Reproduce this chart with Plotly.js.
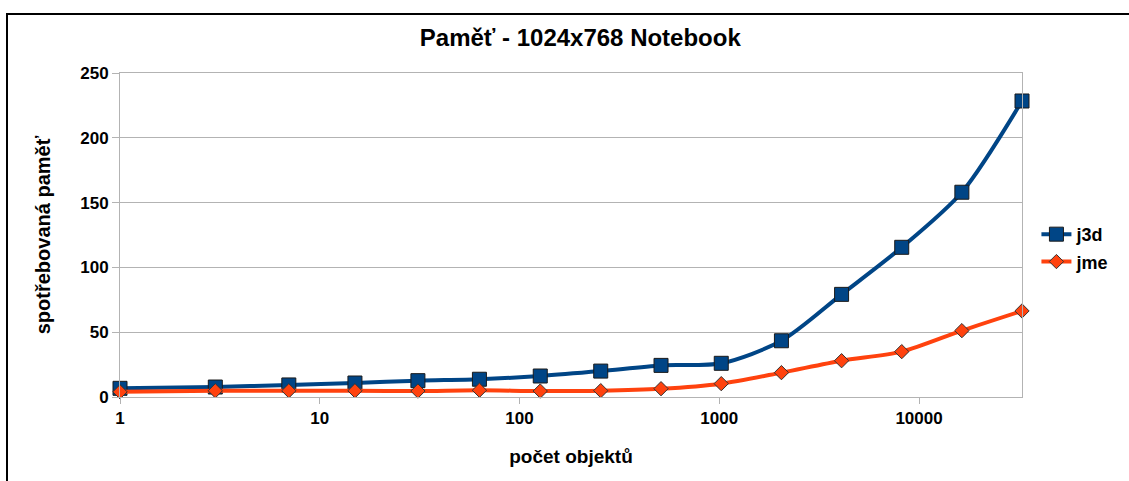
<!DOCTYPE html>
<html>
<head>
<meta charset="utf-8">
<script src="https://cdn.plot.ly/plotly-3.0.1.min.js"></script>
<style>
  html, body { margin: 0; padding: 0; background: #ffffff; }
  #wrap { position: relative; width: 1129px; height: 481px; overflow: hidden; background: #ffffff; }
  #frame { position: absolute; left: 6px; top: 13px; width: 1200px; height: 600px; border: 2px solid #000000; box-sizing: border-box; }
  #chart { position: absolute; left: 0; top: 0; width: 1129px; height: 481px; }
</style>
</head>
<body>
<div id="wrap">
  <div id="frame"></div>
  <div id="chart"></div>
</div>
<script>
// Data
const objectCounts = [1, 3, 7, 15, 31, 63, 127, 255, 511, 1023, 2047, 4095, 8191, 16383, 32767];
const j3dMemory = [6.7, 7.7, 9.3, 10.8, 12.6, 13.7, 16.2, 20, 24.4, 26, 43.4, 79.2, 115.5, 158, 228.4];
const jmeMemory = [4, 4.8, 4.8, 4.8, 4.6, 5.2, 4.6, 4.9, 6.4, 10.3, 18.8, 28, 35, 51.2, 66.4];
const seriesNames = ['j3d', 'jme'];
const xTickVals = [1, 10, 100, 1000, 10000];
const xTickText = ['1', '10', '100', '1000', '10000'];
const yTickVals = [0, 50, 100, 150, 200, 250];

const fontFamily = '"Liberation Sans", Arial, sans-serif';

const traces = [
  {
    x: objectCounts, y: j3dMemory, name: seriesNames[0],
    type: 'scatter', mode: 'lines+markers',
    line: { color: '#004586', width: 4, shape: 'spline', smoothing: 0.8 },
    marker: { symbol: 'square', size: 14, color: '#004586', line: { color: '#1a1a1a', width: 1 } },
    cliponaxis: false, legendgroup: 'a'
  },
  {
    x: objectCounts, y: jmeMemory, name: seriesNames[1],
    type: 'scatter', mode: 'lines+markers',
    line: { color: '#ff420e', width: 4, shape: 'spline', smoothing: 0.8 },
    marker: { symbol: 'diamond', size: 11, color: '#ff420e', line: { color: '#333333', width: 1 } },
    cliponaxis: false, legendgroup: 'b'
  }
];

const layout = {
  width: 1129, height: 481,
  paper_bgcolor: 'rgba(0,0,0,0)',
  plot_bgcolor: '#ffffff',
  margin: { l: 120, r: 107, t: 73, b: 84, pad: 0 },
  font: { family: fontFamily, color: '#000000' },
  title: {
    text: '<b>Paměť - 1024x768 Notebook</b>',
    font: { family: fontFamily, size: 24, color: '#000000' },
    x: 0.514, xanchor: 'center', xref: 'container',
    y: 0.921, yanchor: 'middle', yref: 'container'
  },
  xaxis: {
    type: 'log',
    range: [0, Math.log10(32767)],
    tickmode: 'array', tickvals: xTickVals, ticktext: xTickText,
    ticks: 'outside', ticklen: 6, tickcolor: '#b3b3b3', tickwidth: 1,
    tickfont: { family: fontFamily, size: 17, color: '#000000', weight: 'bold' },
    showgrid: false, zeroline: false,
    showline: true, linecolor: '#b3b3b3', linewidth: 1, mirror: true,
    title: { text: '<b>počet objektů</b>', font: { family: fontFamily, size: 19, color: '#000000' }, standoff: 22 }
  },
  yaxis: {
    range: [0, 250],
    tickmode: 'array', tickvals: yTickVals,
    ticks: 'outside', ticklen: 7, tickcolor: '#b3b3b3', tickwidth: 1,
    tickfont: { family: fontFamily, size: 17, color: '#000000', weight: 'bold' },
    showgrid: true, gridcolor: '#b3b3b3', gridwidth: 1, zeroline: false,
    showline: true, linecolor: '#b3b3b3', linewidth: 1, mirror: true,
    title: { text: '<b>spotřebovaná paměť</b>', font: { family: fontFamily, size: 20, color: '#000000' }, standoff: 24 }
  },
  legend: {
    x: 1.016, xanchor: 'left', y: 0.46, yanchor: 'middle',
    font: { family: fontFamily, size: 18, color: '#000000', weight: 'bold' },
    bgcolor: 'rgba(0,0,0,0)', traceorder: 'grouped', tracegroupgap: 1,
    itemwidth: 30
  },
  showlegend: true
};

Plotly.newPlot('chart', traces, layout, { staticPlot: true, displayModeBar: false });
</script>
</body>
</html>
